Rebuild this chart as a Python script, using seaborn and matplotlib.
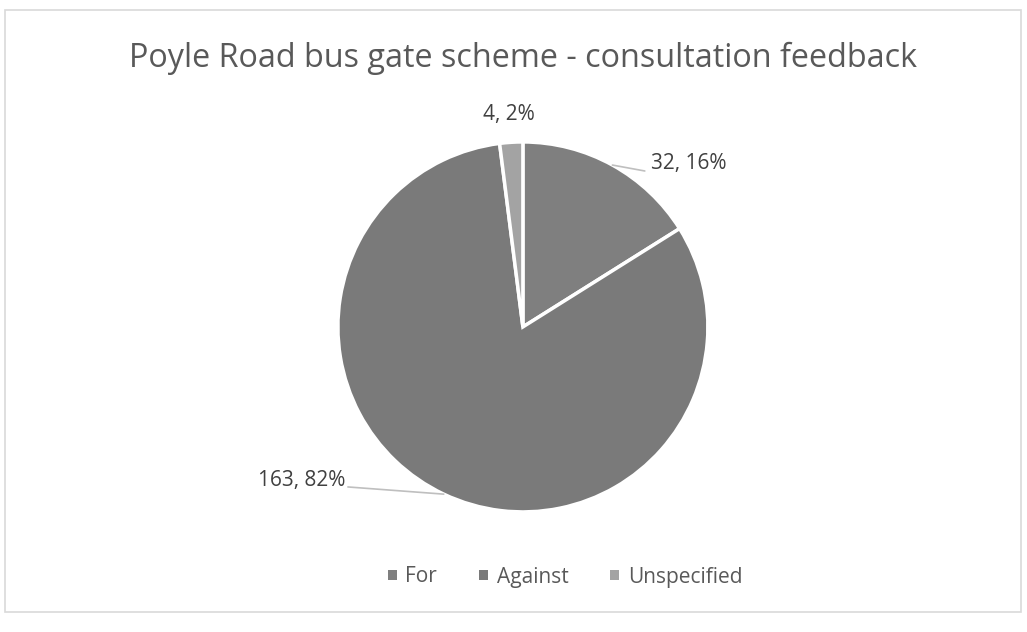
import matplotlib
matplotlib.use("Agg")
import matplotlib.pyplot as plt
import seaborn as sns
import numpy as np
from matplotlib.patches import Rectangle

categories = ["For", "Against", "Unspecified"]
counts = [32, 163, 4]
percents = [16, 82, 2]
colors = ["#7f7f7f", "#7a7a7a", "#a3a3a3"]
title = "Poyle Road bus gate scheme - consultation feedback"

sns.set_theme(style="white")
plt.rcParams['font.family'] = ['Open Sans', 'DejaVu Sans']

fig = plt.figure(figsize=(10.27, 6.32), dpi=100)
fig.patch.set_facecolor("white")
fig.patches.append(Rectangle((5/1027, 1-612/632), (1021-5)/1027, (612-10)/632,
                             transform=fig.transFigure, fill=False,
                             edgecolor="#d9d9d9", linewidth=1.2))

ax = fig.add_axes([0.329, 0.190, 0.3603, 0.5854])
wedges, _ = ax.pie(counts, colors=colors, startangle=90, counterclock=False,
                   wedgeprops=dict(edgecolor="white", linewidth=2.5))
ax.set_xlim(-1, 1)
ax.set_ylim(-1, 1)
ax.set_aspect("equal")

label_color = "#404040"
# label positions (data units relative to pie radius)
label_pos = [(0.897, 0.886), (-1.195, -0.830), (-0.076, 1.151)]
line_end = [(0.659, 0.843), (-0.946, -0.865), None]
for w, c, p, pos, le in zip(wedges, counts, percents, label_pos, line_end):
    txt = f"{c}, {p}%"
    ax.text(pos[0], pos[1], txt, ha="center", va="center", fontsize=15,
            color=label_color, clip_on=False)
    if le is not None:
        ang = np.deg2rad((w.theta1 + w.theta2) / 2)
        ex, ey = np.cos(ang), np.sin(ang)
        ax.plot([ex * 1.0, le[0]], [ey * 1.0, le[1]], color="#bfbfbf", lw=1.2,
                clip_on=False)

fig.text(523/1027, 1 - 58/632, title, ha="center", va="center", fontsize=23.3,
         color="#595959")

handles = [Rectangle((0, 0), 1, 1, facecolor=col, edgecolor="none") for col in colors]
fig.legend(handles, categories, loc="center", bbox_to_anchor=(565/1027, 1 - 577/632),
           ncol=3, frameon=False, fontsize=15, handlelength=0.45, handleheight=0.38,
           columnspacing=2.0, handletextpad=0.4, labelcolor="#595959")

fig.savefig("out.png", dpi=100, facecolor="white")
